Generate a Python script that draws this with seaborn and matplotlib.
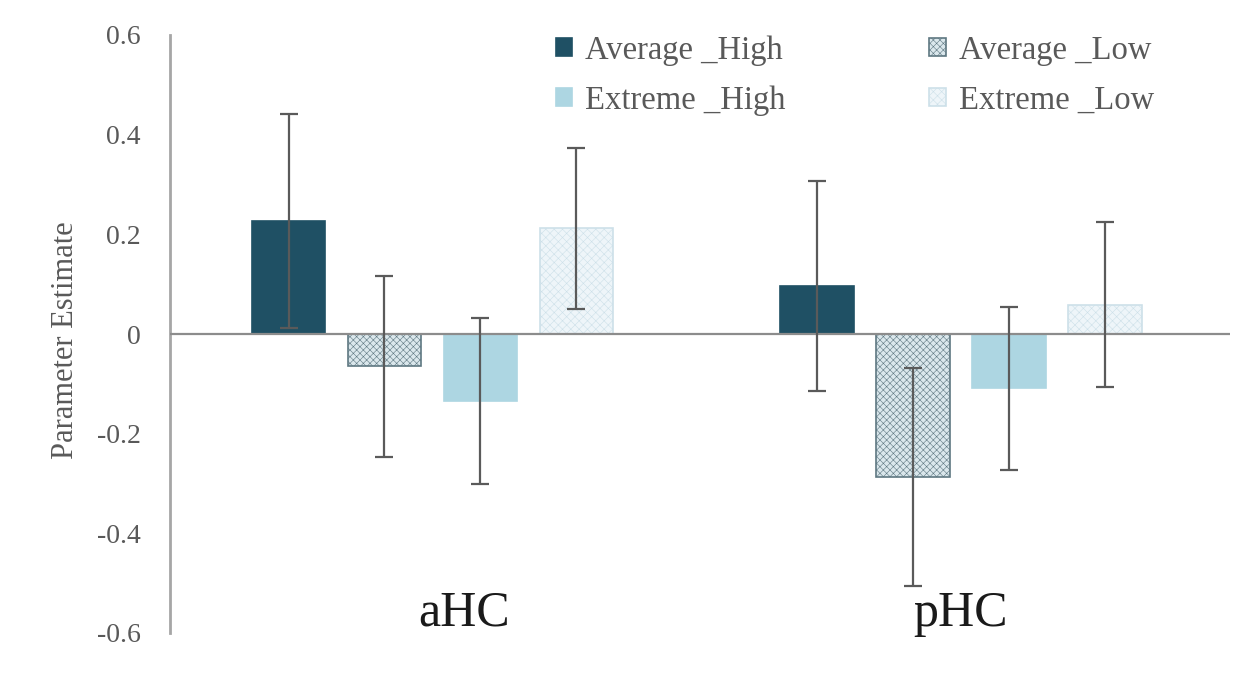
import matplotlib
matplotlib.use("Agg")
import matplotlib.pyplot as plt
import seaborn as sns
import pandas as pd

regions = ["aHC", "pHC"]
conditions = ["Average _High", "Average _Low", "Extreme _High", "Extreme _Low"]
estimates = {
    "Average _High": [0.227, 0.096],
    "Average _Low": [-0.065, -0.287],
    "Extreme _High": [-0.135, -0.109],
    "Extreme _Low": [0.212, 0.059],
}
errors = {
    "Average _High": [0.215, 0.211],
    "Average _Low": [0.181, 0.219],
    "Extreme _High": [0.167, 0.164],
    "Extreme _Low": [0.161, 0.165],
}
yticks = [-0.6, -0.4, -0.2, 0, 0.2, 0.4, 0.6]
ytick_labels = ["-0.6", "-0.4", "-0.2", "0", "0.2", "0.4", "0.6"]

rows = []
for c in conditions:
    for r, v in zip(regions, estimates[c]):
        rows.append({"Region": r, "Condition": c, "Estimate": v})
df = pd.DataFrame(rows)

sns.set_theme(style="white")
plt.rcParams["font.family"] = ["Liberation Serif", "DejaVu Serif"]
plt.rcParams["hatch.linewidth"] = 0.4

face = {"Average _High": "#1f5064", "Average _Low": "#dae7ec",
        "Extreme _High": "#add6e2", "Extreme _Low": "#eef5f9"}
edge = {"Average _High": "#1f5064", "Average _Low": "#5f7882",
        "Extreme _High": "#add6e2", "Extreme _Low": "#cde0e9"}
hatch = {"Average _High": None, "Average _Low": "xxxxx",
         "Extreme _High": None, "Extreme _Low": "xxxx"}

fig = plt.figure(figsize=(12.48, 6.74), dpi=100)
ax = fig.add_axes([170/1248, 1-633/674, 1060/1248, 598/674])

sns.barplot(data=df, x="Region", y="Estimate", hue="Condition", order=regions,
            hue_order=conditions, palette=face, errorbar=None, width=0.727,
            gap=0.23, legend=False, ax=ax)

bar_containers = list(ax.containers)
for cont, c in zip(bar_containers, conditions):
    for bar in cont.patches:
        bar.set_facecolor(face[c])
        bar.set_edgecolor(edge[c])
        bar.set_linewidth(1.2)
        if hatch[c]:
            bar.set_hatch(hatch[c])
    xs = [b.get_x() + b.get_width() / 2 for b in cont.patches]
    ax.errorbar(xs, estimates[c], yerr=errors[c], fmt="none", ecolor="#5a5a5a",
                elinewidth=1.6, capsize=6.5, capthick=1.6, zorder=5)

ax.axhline(0, color="#8c8c8c", lw=1.6, zorder=4)
ax.set_ylim(-0.6, 0.6)
ax.set_xlim(-0.497, 1.51)
ax.set_yticks(yticks)
ax.set_yticklabels(ytick_labels)
ax.tick_params(axis="y", length=0, pad=21, labelsize=20, labelcolor="#595959")
ax.set_xticks([])
ax.set_xlabel("")
ax.set_ylabel("Parameter Estimate", fontsize=22, color="#595959")
ax.yaxis.set_label_coords(-0.085, 0.49)

for s in ["top", "right", "bottom"]:
    ax.spines[s].set_visible(False)
ax.spines["left"].set_color("#a6a6a6")
ax.spines["left"].set_linewidth(2)

for i, r in enumerate(regions):
    ax.text(i + (0.06 if i == 0 else 0), -0.561, r, ha="center", va="center",
            fontsize=36, color="#1a1a1a")

# legend laid out row-wise: Average_High, Average_Low / Extreme_High, Extreme_Low
order = [0, 2, 1, 3]
handles = [bar_containers[k].patches[0] for k in order]
labels = [conditions[k] for k in order]
leg = fig.legend(handles, labels, ncol=2, loc="upper left",
                 bbox_to_anchor=(556/1248, 1-35/674), frameon=False,
                 fontsize=23.5, handlelength=0.5, handleheight=0.45,
                 handletextpad=0.4, columnspacing=4.4, labelspacing=0.6,
                 borderpad=0, borderaxespad=0)
for t in leg.get_texts():
    t.set_color("#595959")

fig.savefig("out.png", dpi=100)
